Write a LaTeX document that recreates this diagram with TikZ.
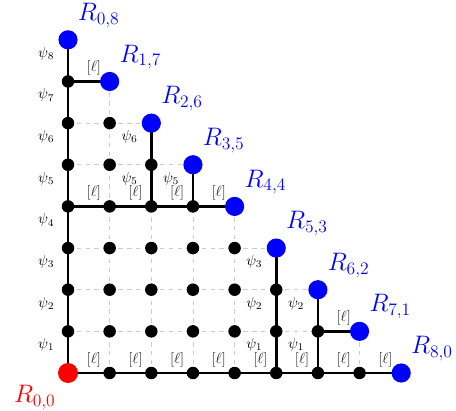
\documentclass[tikz,border=0pt]{standalone}
\usepackage{amsmath,amssymb}
\usepackage{xcolor}
\usepackage{tikz}
\usetikzlibrary{positioning,backgrounds}

\begin{document}
\begin{tikzpicture}[
  dot/.style={circle,fill=black,inner sep=0pt,minimum size=0.3cm},
  target/.style={circle,fill=blue,inner sep=0pt,minimum size=0.46cm},
  source/.style={circle,fill=red,inner sep=0pt,minimum size=0.48cm},
  lattice/.style={gray!40,dashed,line width=0.5pt},
  walk/.style={black,line width=1.8pt},
  steplab/.style={font=\normalsize,text=black!85},
  psilab/.style={font=\normalsize},
  rlab/.style={font=\fontsize{18}{21}\selectfont,text=blue},
]
\useasboundingbox (-1.633,-0.912) rectangle (9.316,8.956);

%% lattice points
\foreach \i in {0,...,7} {
  \pgfmathtruncatemacro{\jmax}{7-\i}
  \foreach \j in {0,...,\jmax}
    \node[dot] (p-\i-\j) at (\i,\j) {};
}
\foreach \i in {0,...,8} {
  \pgfmathtruncatemacro{\j}{8-\i}
  \node[target] (p-\i-\j) at (\i,\j) {};
  \node[rlab,above right=0pt and -1.5pt of p-\i-\j] (r-\i-\j) {$R_{\i,\j}$};
}
\node[source] (p-0-0) at (0,0) {};
\node[rlab,text=red,below left=0pt and 0pt of p-0-0] (r-0-0) {$R_{0,0}$};

\begin{scope}[on background layer]
  %% dashed grid
  \foreach \i in {0,...,7} {
    \pgfmathtruncatemacro{\jmax}{7-\i}
    \pgfmathtruncatemacro{\ii}{\i+1}
    \foreach \j in {0,...,\jmax} {
      \pgfmathtruncatemacro{\jj}{\j+1}
      \draw[lattice] (p-\i-\j.center) -- (p-\ii-\j.center);
      \draw[lattice] (p-\i-\j.center) -- (p-\i-\jj.center);
    }
  }
  %% vertical steps
  \foreach \i/\j in {0/1,0/2,0/3,0/4,0/5,0/6,0/7,0/8,
                     2/5,2/6,3/5,5/1,5/2,5/3,6/1,6/2} {
    \pgfmathtruncatemacro{\jp}{\j-1}
    \draw[walk] (p-\i-\jp.center) --
      node[psilab,left=0.18cm,pos=0.67] (psi-\i-\j) {$\psi_{\j}$} (p-\i-\j.center);
  }
  %% horizontal steps
  \foreach \i/\j in {1/0,2/0,3/0,4/0,5/0,6/0,7/0,8/0,
                     1/4,2/4,3/4,4/4,1/7,7/1} {
    \pgfmathtruncatemacro{\ip}{\i-1}
    \draw[walk] (p-\ip-\j.center) --
      node[steplab,above=0pt,pos=0.62] (ell-\i-\j) {$[\ell]$} (p-\i-\j.center);
  }
\end{scope}

\end{tikzpicture}
\end{document}
